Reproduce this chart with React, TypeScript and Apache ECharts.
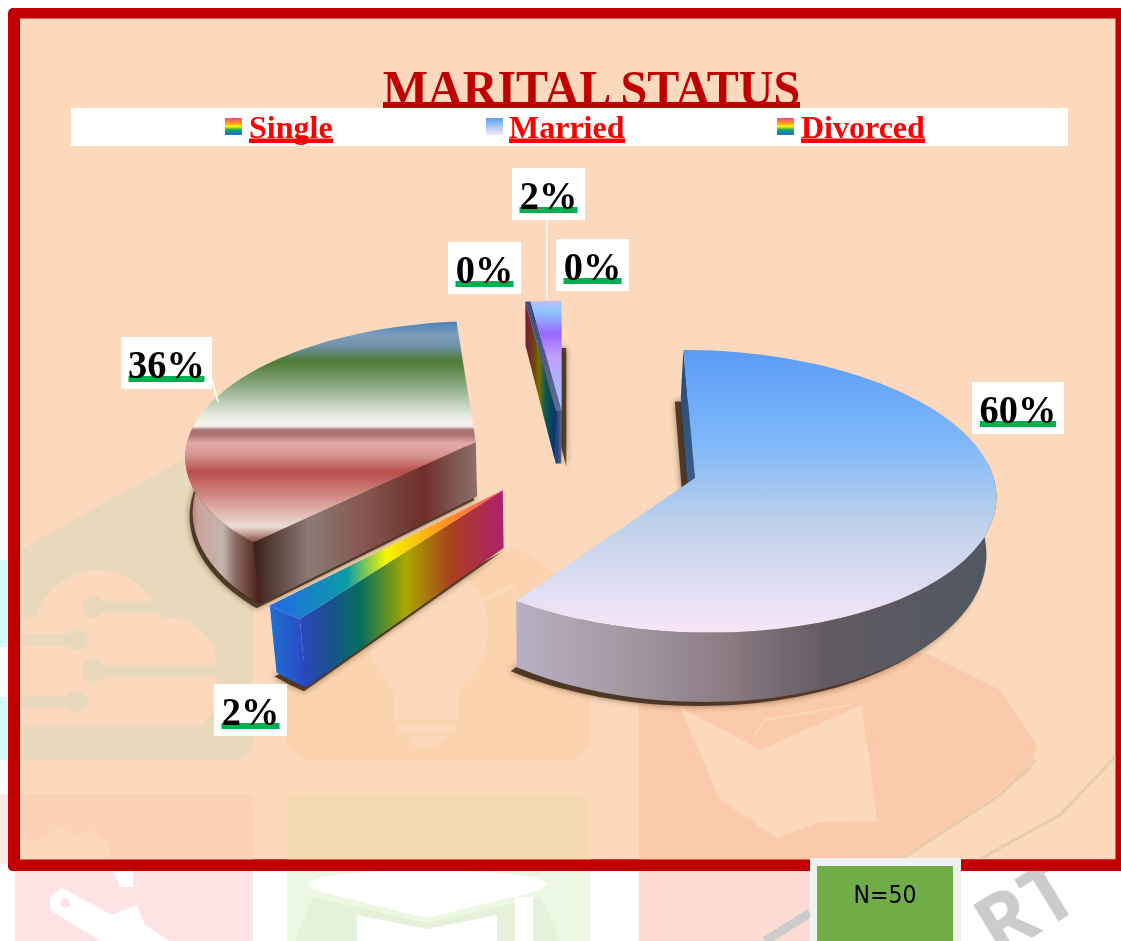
import React, { useEffect, useRef } from "react";
import * as echarts from "echarts";

const chartTitle = "MARITAL STATUS";
const legendItems = ["Single", "Married", "Divorced"];
const sliceNames = ["Married", "Divorced", "Single", "Other 1", "Divorced 2", "Other 2"];
const sliceValues = [60, 2, 36, 0, 2, 0];
const sampleNote = "N=50";

const SERIF = '"Liberation Serif", "Times New Roman", serif';
const O = { x: 560, y: 440 };
const RX = 291, RY = 133, P = 0.092, H = 54;
const offsets = [
  { X: 0.452, V: 0.278, r: 1, turn: 0 },
  { X: -0.19, V: 0.365, r: 1.03, turn: 0 },
  { X: -0.289, V: 0.015, r: 0.99, turn: 1.5 },
  { X: -0.014, V: -0.218, r: 0.94, turn: 0 },
  { X: 0.006, V: -0.218, r: 0.94, turn: 0 },
  { X: 0, V: -0.218, r: 0.94, turn: 0 },
];
const labelBoxes = [
  { x: 972, y: 382, w: 92, h: 52, line: null },
  { x: 214, y: 684, w: 73, h: 52, line: null },
  { x: 121, y: 337, w: 91, h: 52, line: [212, 380, 218, 402] },
  { x: 448, y: 242, w: 73, h: 52, line: null },
  { x: 512, y: 168, w: 73, h: 52, line: [547, 220, 547, 300] },
  { x: 556, y: 239, w: 73, h: 52, line: null },
];
const shadowShift = [
  [-6, 4], [-2, 4], [-3, 4], [0, 0], [5, 3], [0, 0],
];
const paintOrder = [1, 3, 2, 4, 5, 6];

const grad = (x: number, y: number, x2: number, y2: number, stops: [number, string][]) =>
  new echarts.graphic.LinearGradient(x, y, x2, y2, stops.map(([offset, color]) => ({ offset, color })));
const hGrad = (s: [number, string][]) => grad(0, 0, 1, 0, s);
const vGrad = (s: [number, string][]) => grad(0, 0, 0, 1, s);

const rainbowMarker = (): any =>
  vGrad([[0, "#ff3f8f"], [0.3, "#ff9a20"], [0.5, "#f5f500"], [0.7, "#0ea860"], [1, "#2468e8"]]);

const topFills: any[] = [
  () => vGrad([[0, "#5c9cf8"], [0.33, "#7eb8f8"], [0.6, "#bcd0ea"], [1, "#f8e6f8"]]),
  () => hGrad([[0, "#2468e8"], [0.33, "#0a9ca8"], [0.5, "#f5f500"], [0.76, "#ff9020"], [1, "#ff4a6a"]]),
  () => vGrad([[0, "#4d80b8"], [0.06, "#7c9dbd"], [0.11, "#7192a8"], [0.18, "#4d7a34"], [0.3, "#8fae88"], [0.42, "#e2e8dc"], [0.46, "#f6f4f0"], [0.475, "#f2ece8"], [0.49, "#a97474"], [0.51, "#a87070"], [0.55, "#e0aaa8"], [0.6, "#d89a96"], [0.68, "#b84f4a"], [0.8, "#d4908a"], [0.93, "#ecdcd4"], [1, "#8a4a40"]]),
  null,
  () => vGrad([[0, "#b9c0fa"], [0.1, "#8ec3fa"], [0.3, "#9966ff"], [0.5, "#c0a0fc"], [1, "#9cc4ff"]]),
  null,
];
const rimFills: any[] = [
  () => hGrad([[0, "#b8b0c2"], [0.25, "#a2959f"], [0.45, "#8a7a82"], [0.65, "#625a62"], [1, "#4f5862"]]),
  () => hGrad([[0, "#2070d0"], [1, "#2a48c8"]]),
  () => hGrad([[0, "#b45a50"], [0.18, "#c9a49c"], [0.5, "#c4b4ac"], [0.68, "#8a6a60"], [1, "#4a1e15"]]),
  null,
  () => hGrad([[0, "#34456e"], [1, "#5a6a88"]]),
  null,
];

function project(X: number, V: number) {
  const w = 1 - P * V;
  return { x: O.x + (RX * X) / w, y: O.y + (RY * V) / w, w };
}
function rimPoint(i: number, deg: number) {
  const o = offsets[i];
  const t = ((deg + o.turn) * Math.PI) / 180;
  return project(o.X + o.r * Math.sin(t), o.V - o.r * Math.cos(t));
}
function apex(i: number) {
  return project(offsets[i].X, offsets[i].V);
}
function drop(p: { x: number; y: number; w: number }): number[] {
  const depth = H / (p.w * p.w);
  return [540 + (p.x - 540) * (1 - depth * 0.000375), p.y + depth];
}
const xy = (p: { x: number; y: number }) => [p.x, p.y];

function arcSamples(i: number, a: number, b: number) {
  const pts: any[] = [];
  const n = Math.max(2, Math.ceil(Math.abs(b - a) / 2));
  for (let k = 0; k <= n; k++) pts.push(rimPoint(i, a + ((b - a) * k) / n));
  return pts;
}
function poly(points: number[][], fill: any, z2: number, extra: any = {}) {
  return { type: "polygon", z2, silent: true, shape: { points }, style: { fill, ...extra } };
}
function frontArc(i: number, a: number, b: number) {
  const all: number[] = [];
  const n = Math.ceil((b - a) / 2);
  for (let k = 0; k <= n; k++) {
    const d = a + ((b - a) * k) / n;
    if (-Math.cos((d * Math.PI) / 180) > -0.12) all.push(d);
  }
  return all.map((d) => rimPoint(i, d));
}

function renderItem(params: any, api: any) {
  const i = params.dataIndex;
  const value = api.value(0);
  const total = sliceValues.reduce((s, v) => s + v, 0);
  const before = sliceValues.slice(0, i).reduce((s, v) => s + v, 0);
  const a = (before / total) * 360;
  const b = ((before + value) / total) * 360;
  const base = paintOrder[i] * 10;
  const children: any[] = [];

  if (value > 0) {
    const arc = arcSamples(i, a, b);
    const A = apex(i);
    const outline = [...arc.map(drop), drop(A)];
    const [sx, sy] = shadowShift[i];
    children.push(
      poly(outline.map(([x, y]) => [x + sx, y + sy]), "rgba(58,38,24,0.82)", 1, {
        shadowBlur: 6,
        shadowColor: "rgba(58,38,24,0.7)",
      }),
    );
    const first = arc[0];
    if (i === 0) {
      children.push(
        poly([xy(first), xy(A), drop(A), drop(first)], vGrad([[0, "#274a78"], [1, "#3e6292"]]), base),
      );
    }
    if (i === 1) {
      children.push(
        poly([xy(first), xy(A), drop(A), drop(first)], hGrad([[0, "#2a46c0"], [0.15, "#1a5090"], [0.3, "#04705c"], [0.52, "#a8a800"], [0.75, "#a83f20"], [1, "#b0206e"]]), base + 2),
      );
    }
    if (i === 2) {
      children.push(
        poly([xy(first), xy(A), drop(A), drop(first)], hGrad([[0, "#3b1e16"], [0.15, "#6b5650"], [0.25, "#8b7b74"], [0.5, "#85564f"], [0.76, "#6e2f2c"], [1, "#8d716a"]]), base + 2),
      );
    }
    const front = frontArc(i, a, b);
    if (front.length > 1) {
      children.push(
        poly([...front.map(xy), ...front.slice().reverse().map(drop)], rimFills[i] ? rimFills[i]() : "#888", base + 1),
      );
    }
    if (i === 4) {
      const A3 = apex(3);
      children.push(
        poly([xy(A3), xy(A), drop(A), drop(A3)], hGrad([[0, "#123a78"], [1, "#5a6a88"]]), base - 2),
      );
    }
    children.push(poly([xy(A), ...arc.map(xy)], topFills[i] ? topFills[i]() : "#888", base + 3));
  } else if (i === 3) {
    const R3 = rimPoint(3, a);
    const A3 = apex(3);
    const R4 = rimPoint(4, a);
    const A4 = apex(4);
    children.push(
      poly([xy(R3), xy(A3), drop(A3), drop(R3)], hGrad([[0, "#7a1540"], [0.3, "#6a4a10"], [0.45, "#7a7000"], [0.65, "#0a5a50"], [1, "#0a3070"]]), 40),
    );
    children.push(poly([xy(R3), xy(R4), xy(A4), xy(A3)], vGrad([[0, "#3c4a86"], [1, "#5c6c90"]]), 41));
  }

  const box = labelBoxes[i];
  if (box.line) {
    const [x1, y1, x2, y2] = box.line;
    children.push({
      type: "line", z2: 90, silent: true,
      shape: { x1, y1, x2, y2 },
      style: { stroke: "#ffffff", lineWidth: 1.5 },
    });
  }
  const text = `${value}%`;
  const textW = value >= 10 ? 76 : 58;
  children.push({
    type: "rect", z2: 91, silent: true,
    shape: { x: box.x, y: box.y, width: box.w, height: box.h },
    style: { fill: "#ffffff" },
  });
  children.push({
    type: "rect", z2: 92, silent: true,
    shape: { x: box.x + (box.w - textW) / 2, y: box.y + 39, width: textW, height: 6 },
    style: { fill: "#00b050" },
  });
  children.push({
    type: "text", z2: 93, silent: true,
    x: box.x + box.w / 2, y: box.y + 27, scaleX: 0.96,
    style: {
      text, x: 0, y: 0,
      fontFamily: SERIF, fontWeight: "bold", fontSize: 40, fill: "#000000",
      align: "center", verticalAlign: "middle",
    },
  });
  return { type: "group", children };
}

function wm(points: number[][], fill: string, z = 2) {
  return { type: "polygon", z, silent: true, shape: { points }, style: { fill } };
}
function rr(x: number, y: number, width: number, height: number, fill: string, r: any = 0, z = 2) {
  return { type: "rect", z, silent: true, shape: { x, y, width, height, r }, style: { fill } };
}
function stroke(points: number[][], color: string, width: number, z = 2) {
  return { type: "polyline", z, silent: true, shape: { points }, style: { stroke: color, lineWidth: width, fill: "none" } };
}
function dot(cx: number, cy: number, r: number, fill: string, z = 2) {
  return { type: "circle", z, silent: true, shape: { cx, cy, r }, style: { fill } };
}

const BASE = "#fcd9bc";
const TILE1 = "#e8d9bc";

function backgroundElements(): any[] {
  const els: any[] = [];
  // page watermark on white
  els.push(rr(0, 0, 1121, 941, "#ffffff", 0, 0));
  els.push(rr(0, 560, 8, 87, "#d2fbfb", 0, 0));
  els.push(rr(0, 697, 8, 63, "#d2fbfb", 0, 0));
  els.push(rr(0, 794, 8, 70, "#fde8e8", 0, 0));
  els.push(rr(15, 871, 238, 70, "#fde3e3", 0, 0));
  els.push(wm([[50, 897], [62, 888], [112, 915], [137, 905], [145, 925], [170, 941], [100, 941], [50, 910]], "#ffffff", 0));
  els.push(dot(65, 903, 5, "#fde3e3", 0));
  els.push(wm([[113, 871], [133, 871], [133, 887], [120, 887]], "#ffffff", 0));
  els.push(rr(287, 871, 303, 70, "#edf8e2", 0, 0));
  els.push(wm([[313, 897], [427, 923], [541, 897], [560, 941], [295, 941]], "#e6f1da", 0));
  els.push({ type: "ellipse", z: 0, silent: true, shape: { cx: 427, cy: 884, rx: 119, ry: 14 }, style: { fill: "#ffffff" } });
  els.push(wm([[313, 890], [427, 918], [541, 890], [541, 884], [313, 884]], "#ffffff", 0));
  els.push(wm([[357, 915], [427, 929], [497, 915], [497, 941], [357, 941]], "#ffffff", 0));
  els.push(rr(515, 897, 18, 44, "#ffffff", 0, 0));
  els.push(rr(639, 871, 171, 70, "#fedcd4", 0, 0));
  els.push(stroke([[765, 941], [810, 913]], "#cccccc", 9, 0));
  els.push({
    type: "text", z: 0, silent: true, rotation: 0.55, x: 1024, y: 905,
    style: { text: "RT", fontFamily: '"Open Sans", sans-serif', fontWeight: "bold", fontSize: 82, fill: "#cccccc", align: "center", verticalAlign: "middle" },
  });
  // framed panel
  els.push(rr(8, 8, 1130, 863, "#c00000", 5, 1));
  els.push(rr(20, 18.5, 1095.5, 841, BASE, 0, 1));
  // circuit tile
  els.push(wm([[20, 550], [187, 457], [253, 500], [253, 748], [241, 760], [20, 760]], TILE1));
  els.push(rr(20, 617, 197, 110, BASE, [0, 50, 30, 0]));
  els.push({ type: "ellipse", z: 2, silent: true, shape: { cx: 98, cy: 640, rx: 66, ry: 70 }, style: { fill: BASE } });
  [[93, 607, 163, 11], [93, 671, 217, 12]].forEach(([x, y, x2, r]) => {
    els.push(dot(x, y, r, TILE1));
    els.push(rr(x, y - 6, x2 - x, 12, TILE1));
  });
  [[77, 640, 11], [77, 702, 11]].forEach(([x, y, r]) => {
    els.push(dot(x, y, r, TILE1));
    els.push(rr(20, y - 6, x - 20, 12, TILE1));
  });
  // bulb tile
  els.push(wm([[287, 650], [440, 545], [520, 550], [590, 597], [590, 745], [575, 760], [302, 760], [287, 745]], "#fcd3af"));
  els.push({ type: "ellipse", z: 2, silent: true, shape: { cx: 428, cy: 630, rx: 60, ry: 68 }, style: { fill: BASE } });
  els.push(wm([[372, 650], [395, 695], [395, 720], [458, 720], [458, 695], [484, 650]], BASE));
  els.push(rr(397, 724, 58, 9, BASE));
  els.push(wm([[407, 736], [447, 736], [440, 746], [427, 748], [414, 746]], BASE));
  els.push(stroke([[485, 600], [515, 585]], BASE, 5));
  // book tile
  els.push(wm([[639, 575], [930, 655], [1000, 690], [1037, 745], [1030, 772], [900, 860], [639, 860]], "#fbc9ab"));
  els.push(wm([[680, 707], [760, 750], [862, 705], [877, 821], [820, 822], [777, 838], [720, 800]], BASE));
  els.push(stroke([[755, 735], [765, 720], [850, 705]], BASE, 2));
  els.push(stroke([[1036, 760], [1000, 795], [900, 860]], "#e6cdaa", 3));
  els.push(stroke([[1115, 757], [1060, 815], [980, 859]], "#e6cdaa", 3));
  // lower tiles
  els.push(rr(20, 794, 233, 70, "#fbd1b7", [0, 8, 0, 0]));
  els.push(wm([[20, 838], [38, 840], [60, 825], [75, 835], [95, 830], [110, 845], [110, 860], [20, 860]], "#fcd7ba"));
  els.push(rr(287, 794, 303, 70, "#f5d9b3", [8, 8, 0, 0]));
  els.push(rr(8, 859.5, 1130, 11.5, "#c00000", [0, 0, 5, 5], 3));
  // legend strip
  els.push(rr(71, 108, 997, 38, "#ffffff", 0, 3));
  // title
  els.push({
    type: "text", z: 4, silent: true, x: 591.5, y: 88, scaleX: 0.96,
    style: { text: chartTitle, x: 0, y: 0, fontFamily: SERIF, fontWeight: "bold", fontSize: 50, fill: "#c00000", align: "center", verticalAlign: "middle" },
  });
  els.push(rr(383, 102, 417, 6, "#c00000", 0, 4));
  const pos = [
    { m: 225, t: 249, w: 84 },
    { m: 486, t: 509, w: 116 },
    { m: 777, t: 801, w: 124 },
  ];
  legendItems.forEach((name, k) => {
    const p = pos[k];
    els.push({
      type: "rect", z: 4, silent: true,
      shape: { x: p.m, y: 118, width: 17, height: 17 },
      style: { fill: k === 1 ? vGrad([[0, "#5c9cf8"], [0.5, "#a8c8f0"], [1, "#f8e6f8"]]) : rainbowMarker() },
    });
    els.push({
      type: "text", z: 4, silent: true,
      style: { text: name, x: p.t, y: 127, fontFamily: SERIF, fontWeight: "bold", fontSize: 32, fill: "#ff0000", align: "left", verticalAlign: "middle" },
    });
    els.push(rr(p.t, 138.5, p.w, 4.5, "#ff0000", 0, 4));
  });
  // sample note
  els.push(rr(810, 858, 151, 83, "#f0f0f0", 0, 5));
  els.push(rr(817, 866, 136, 75, "#70ad47", 0, 5));
  els.push({
    type: "text", z: 6, silent: true, x: 885, y: 895, scaleX: 0.92,
    style: { text: sampleNote, x: 0, y: 0, fontFamily: '"DejaVu Sans", sans-serif', fontSize: 24, fill: "#000000", align: "center", verticalAlign: "middle" },
  });
  return els;
}

export default function App() {
  const ref = useRef<HTMLDivElement>(null);
  useEffect(() => {
    document.body.style.margin = "0";
    const chart = echarts.init(ref.current!, undefined, { renderer: "svg" });
    chart.setOption({
      animation: false,
      graphic: { elements: backgroundElements() },
      series: [
        {
          type: "custom",
          coordinateSystem: "none",
          renderItem,
          z: 5,
          data: sliceValues.map((value, k) => ({ name: sliceNames[k], value: [value] })),
        },
      ],
    });
    return () => chart.dispose();
  }, []);
  return <div ref={ref} style={{ position: "fixed", left: 0, top: 0, width: 1121, height: 941, overflow: "hidden" }} />;
}
